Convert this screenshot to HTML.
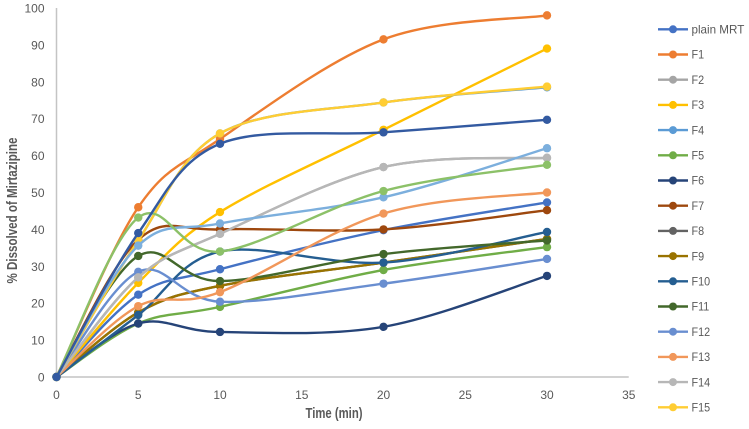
<!DOCTYPE html>
<html>
<head>
<meta charset="utf-8">
<title>% Dissolved of Mirtazipine over time</title>
<style>
html,body{margin:0;padding:0;background:#fff;width:749px;height:429px;overflow:hidden}
svg{display:block;font-family:"Liberation Sans",sans-serif}
</style>
</head>
<body>
<svg id="chart" width="749" height="429" viewBox="0 0 749 429" xmlns="http://www.w3.org/2000/svg">
<rect width="749" height="429" fill="#fff"/>
<g id="axes"></g>
<g id="series"></g>
<g id="legend"></g>
<text transform="translate(17,210.5) rotate(-90)" text-anchor="middle" font-size="14.5" font-weight="bold" fill="#595959" textLength="146" lengthAdjust="spacingAndGlyphs">% Dissolved of Mirtazipine</text>
<text x="334" y="418" text-anchor="middle" font-size="14.5" font-weight="bold" fill="#595959" textLength="57" lengthAdjust="spacingAndGlyphs">Time (min)</text>
</svg>
<script>
const times = [0, 5, 10, 20, 30];
const xTicks = [0, 5, 10, 15, 20, 25, 30, 35];
const yTicks = [0, 10, 20, 30, 40, 50, 60, 70, 80, 90, 100];
const seriesNames = ['plain MRT', 'F1', 'F2', 'F3', 'F4', 'F5', 'F6', 'F7', 'F8', 'F9', 'F10', 'F11', 'F12', 'F13', 'F14', 'F15', 'F16', 'F17', 'F18'];
const legendCount = 16;
const seriesColors = ['#4472C4', '#ED7D31', '#A5A5A5', '#FFC000', '#5B9BD5', '#70AD47', '#264478', '#9E480E', '#636363', '#997300', '#255E91', '#43682B', '#698ED0', '#F1975A', '#B7B7B7', '#FFCD33', '#7CAFDD', '#8CC168', '#335AA1'];
const plainMrt = [0, 22.3, 29.2, 39.8, 47.3];
const f1 = [0, 46, 64.5, 91.5, 98];
const f2 = [0, 27, 38.8, 56.9, 59.4];
const f3 = [0, 25.5, 44.7, 67, 89];
const f4 = [0, 37, 66, 74.4, 78.5];
const f5 = [0, 14.5, 19, 29, 35.2];
const f6 = [0, 14.5, 12.2, 13.6, 27.4];
const f7 = [0, 37.2, 40, 40, 45.2];
const f8 = [0, 17.5, 24.7, 31, 37.4];
const f9 = [0, 17.5, 24.7, 31, 37.4];
const f10 = [0, 16.8, 34, 31, 39.3];
const f11 = [0, 32.8, 26, 33.3, 37];
const f12 = [0, 28.5, 20.4, 25.3, 32];
const f13 = [0, 19.2, 23, 44.3, 50];
const f14 = [0, 27, 38.8, 56.9, 59.4];
const f15 = [0, 37, 66, 74.4, 78.7];
const f16 = [0, 35.6, 41.6, 48.7, 62];
const f17 = [0, 43.2, 34, 50.4, 57.5];
const f18 = [0, 39, 63.2, 66.3, 69.7];
const seriesValues = [plainMrt, f1, f2, f3, f4, f5, f6, f7, f8, f9, f10, f11, f12, f13, f14, f15, f16, f17, f18];

const NS = 'http://www.w3.org/2000/svg';
const xScale = function (v) { return 56.5 + v * 16.35; };
const yScale = function (v) { return 377 - v * 3.69; };
function make(tag, parent) {
  const el = document.createElementNS(NS, tag);
  parent.appendChild(el);
  return el;
}
function set(el, props) {
  Object.keys(props).forEach(function (k) { el.setAttribute(k, props[k]); });
}
function smoothPath(pts) {
  let d = 'M' + pts[0][0] + ' ' + pts[0][1];
  for (let i = 0; i < pts.length - 1; i++) {
    const a = pts[Math.max(i - 1, 0)];
    const b = pts[i];
    const c = pts[i + 1];
    const e = pts[Math.min(i + 2, pts.length - 1)];
    d += 'C' + (b[0] + (c[0] - a[0]) / 6) + ' ' + (b[1] + (c[1] - a[1]) / 6) + ' ' +
      (c[0] - (e[0] - b[0]) / 6) + ' ' + (c[1] - (e[1] - b[1]) / 6) + ' ' + c[0] + ' ' + c[1];
  }
  return d;
}

const axes = document.getElementById('axes');
const yAxis = make('line', axes);


set(yAxis, { x1: xScale(0), x2: xScale(0), y1: yScale(100), y2: yScale(0), stroke: '#C4C4C4', 'stroke-width': 1.5 });
const xAxis = make('line', axes);


set(xAxis, { x1: xScale(0), x2: xScale(35), y1: yScale(0), y2: yScale(0), stroke: '#C4C4C4', 'stroke-width': 1.5 });

yTicks.forEach(function (v) {
  const t = make('text', axes);
  
  
  set(t, { x: 44.5, y: yScale(v) + 4.5, 'text-anchor': 'end', 'font-size': 12, fill: '#595959' });
  t.textContent = v;
});
xTicks.forEach(function (v) {
  const t = make('text', axes);
  
  
  set(t, { x: xScale(v), y: 399, 'text-anchor': 'middle', 'font-size': 12, fill: '#595959' });
  t.textContent = v;
});

const seriesGroup = document.getElementById('series');
seriesValues.forEach(function (vals, s) {
  const g = make('g', seriesGroup);
  
  
  g.setAttribute('aria-label', seriesNames[s]);
  const pts = vals.map(function (v, i) { return [xScale(times[i]), yScale(v)]; });
  const p = make('path', g);
  
  
  set(p, { d: smoothPath(pts), fill: 'none', stroke: seriesColors[s], 'stroke-width': 2.4, 'stroke-linecap': 'round' });
  pts.forEach(function (pt) {
    const c = make('circle', g);
    
    
    set(c, { cx: pt[0], cy: pt[1], r: 4.2, fill: seriesColors[s] });
  });
});

const legend = document.getElementById('legend');
seriesNames.slice(0, legendCount).forEach(function (name, i) {
  const y = 29.3 + i * 25.2;
  const g = make('g', legend);
  
  
  const l = make('line', g);
  
  
  set(l, { x1: 658, x2: 688, y1: y, y2: y, stroke: seriesColors[i], 'stroke-width': 2.4 });
  const c = make('circle', g);
  
  
  set(c, { cx: 673, cy: y, r: 4, fill: seriesColors[i] });
  const t = make('text', g);
  
  
  set(t, { x: 691.5, y: y + 4.2, 'font-size': 12, fill: '#595959', lengthAdjust: 'spacingAndGlyphs' });
  t.textContent = name;
  t.setAttribute('textLength', (t.getComputedTextLength() * (i === 0 ? 0.97 : 0.9)).toFixed(1));
});
</script>
</body>
</html>
